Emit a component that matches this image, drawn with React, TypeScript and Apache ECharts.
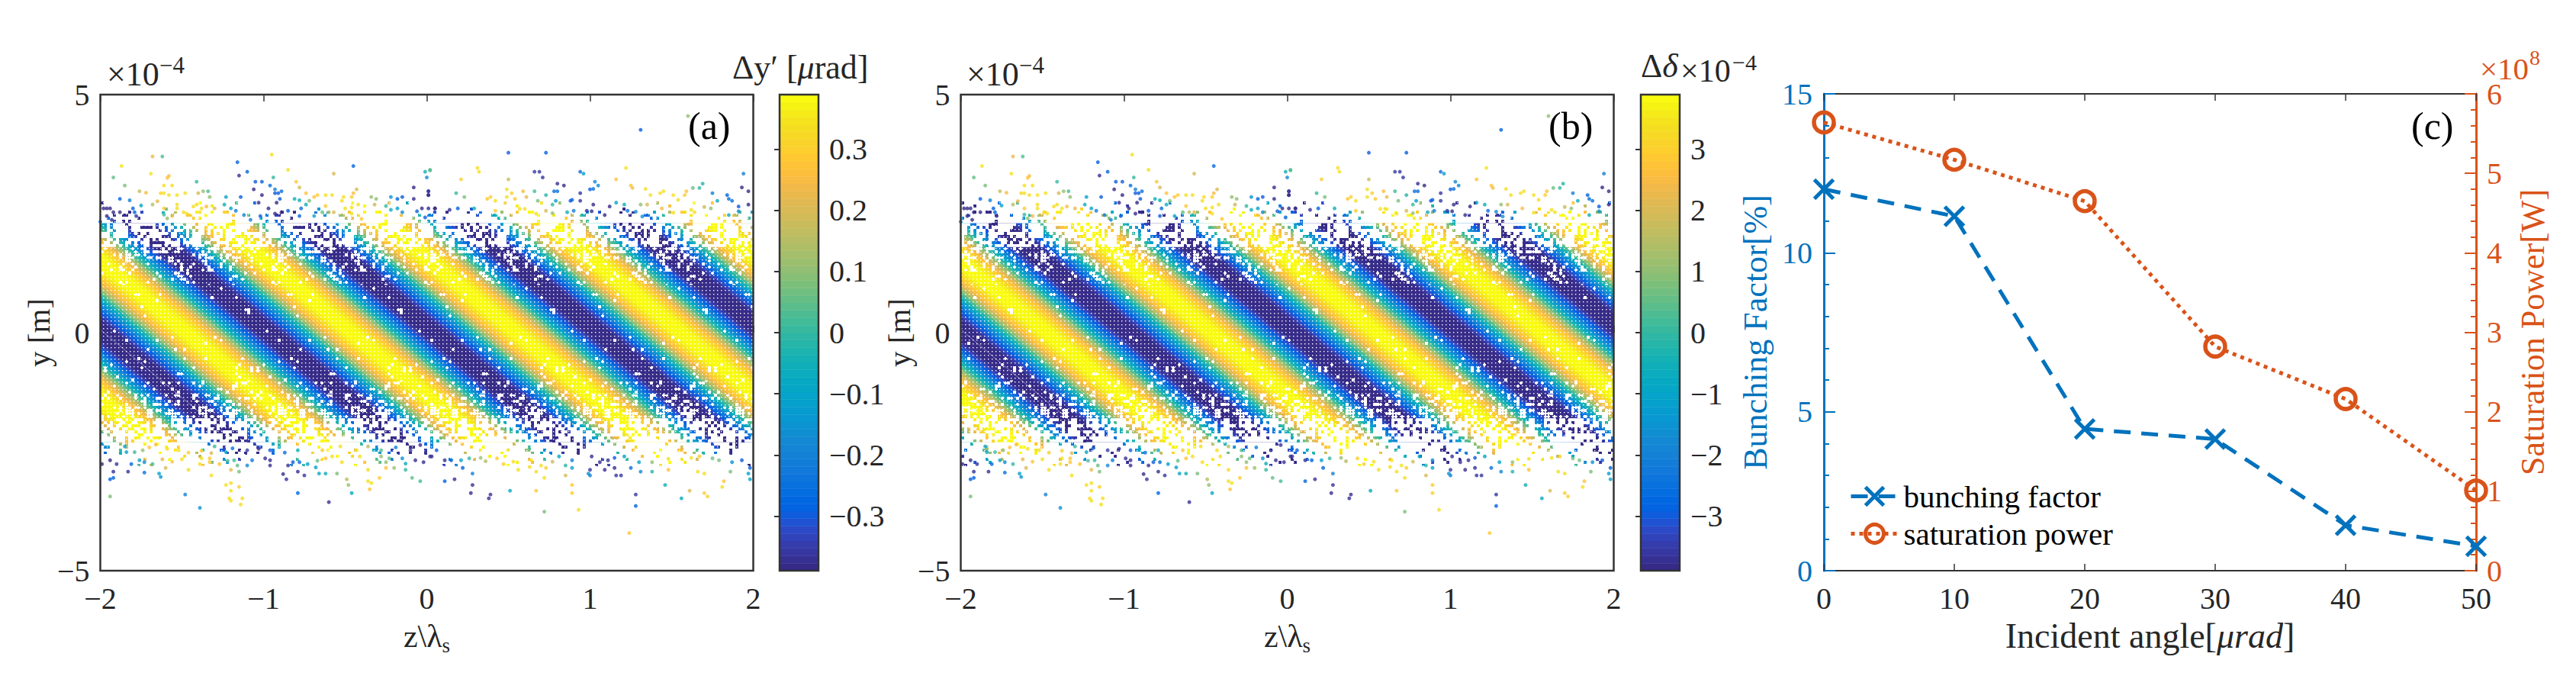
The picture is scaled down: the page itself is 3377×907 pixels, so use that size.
import React, { useEffect, useRef } from "react";
import * as echarts from "echarts";

const SERIF = "'Liberation Serif', 'DejaVu Serif', serif";
const TEXT = "#262626";
const BLUE = "#0072BD";
const ORANGE = "#D95319";

// Panel (c)
const anglesUrad = [0, 10, 20, 30, 40, 50];
const bunchingFactor = [12.0, 11.15, 4.46, 4.14, 1.43, 0.77];
const saturationPower = [5.64, 5.17, 4.65, 2.82, 2.16, 1.01];

// Stripe pattern (a)/(b): trough positions at y = 0, one period's profile of dy' in urad
const stripeTroughZ = [-4.0, -2.99, -1.975, -0.965, 0.045, 1.055, 2.065, 3.075];
const stripePeriodZ = 1.009;
const stripeSlantZPerY = 0.35;
const stripeExtentY = 2.8;
const stripeProfile = [
  -0.39, -0.39, -0.38, -0.36, -0.32, -0.28, -0.23, -0.17, -0.1, -0.03,
  0.03, 0.1, 0.16, 0.22, 0.27, 0.31, 0.35, 0.37, 0.39, 0.39,
  0.39, 0.39, 0.37, 0.35, 0.31, 0.27, 0.22, 0.16, 0.1, 0.03,
  -0.03, -0.1, -0.17, -0.23, -0.28, -0.32, -0.36, -0.38, -0.39, -0.39,
];
// Share of empty area in the particle cloud by height (y in 1e-4 m), strips between consecutive edges
const cloudEdgesY = [-2.85, -2.55, -2.3, -2.05, -1.8, -1.55, -1.3, -1.0, 1.0, 1.3, 1.55, 1.8, 2.05, 2.3, 2.55, 2.85];
const cloudEmpty = [0.95, 0.86, 0.72, 0.55, 0.4, 0.22, 0.1, 0.03, 0.1, 0.22, 0.4, 0.55, 0.72, 0.86, 0.95];

// Individually readable particles: z/lambda_s, y (1e-4 m), dy' (urad)
const particlesUpperLeft = [
  [-1.68,3.7,.22],[-1.62,3.7,.03],[-.95,3.74,.33],[-1.87,3.5,.35],[-1.16,3.58,-.28],[-1.92,3.26,.05],[-1.69,3.34,.35],[-1.58,3.29,.25],
  [-1.59,3.25,.27],[-1.85,3.09,.08],[-1.15,3.3,-.37],[-1.1,3.38,-.28],[-.85,3.42,.33],[-1.41,3.17,0],[-1.05,3.17,-.3],[-1.01,3.17,-.3],
  [-.94,3.26,0],[-.57,3.34,.2],[-.45,3.5,-.27],[-.01,3.38,-.05],[.02,3.42,.05],[0,3.26,-.18],[-.08,3.05,-.38],[.01,2.97,-.38],[.01,2.89,-.38],
  [-.8,3.17,.28],[-.78,3.05,.2],[-.96,3.09,-.25],[-1.06,3.01,-.38],[-1.01,2.89,-.38],[-.93,3.01,-.2],[-.89,2.97,-.25],[-.93,2.93,-.3],[-.91,2.93,-.3],
  [-1.76,2.97,.18],[-1.72,2.94,.25],[-1.63,2.93,.32],[-1.61,2.93,.33],[-1.61,3.09,.34],[-1.56,3.09,.34],[-1.58,2.89,.33],[-1.53,2.89,.35],[-1.48,2.93,.33],
  [-1.4,2.93,.2],[-1.37,2.97,.1],[-1.34,2.97,.03],[-1.33,2.85,.1],[-1.23,2.85,-.1],[-1.14,2.85,-.3],[-1.88,2.81,-.28],[-1.82,2.78,-.2],[-1.03,2.73,-.38],
  [-.74,2.93,.27],[-.69,2.85,.27],[-.67,2.89,.3],[-.62,2.89,.33],[-.58,2.89,.33],[-.43,3.01,.2],[-.45,2.93,.25],[-.46,2.85,.3],[-.51,2.85,.33],[-.34,2.85,.1],
  [-.31,2.81,.1],[-.22,2.85,-.15],[-.18,2.81,-.28],[-.15,2.85,-.3],[-.08,2.81,-.38],[-.81,2.81,-.05],[-.78,2.78,-.05],[-.72,2.77,.08],[-.74,2.69,-.05],[-.9,2.81,-.3],[-.92,2.73,-.38],
  [-1.98,2.61,-.38],[-1.96,2.61,-.38],[-1.94,2.61,-.38],[-1.92,2.53,-.38],[-1.88,2.53,-.38],[-1.96,2.45,-.38],[-1.93,2.37,-.38],[-2,2.33,-.27],[-1.8,2.61,-.28],[-1.79,2.53,-.28],
  [-1.78,2.45,-.36],[-1.75,2.67,-.1],[-1.65,2.76,.22],[-1.68,2.69,.15],[-1.61,2.61,.28],[-1.53,2.69,.34],[-1.53,2.61,.34],[-1.49,2.53,.34],[-1.47,2.5,.34],[-1.43,2.65,.34],
  [-1.41,2.69,.34],[-1.39,2.53,.34],[-1.38,2.61,.33],[-1.35,2.65,.26],[-1.56,2.45,.25],[-1.59,2.4,.1],[-1.61,2.48,0],[-1.3,2.61,.22],[-1.24,2.69,-.05],[-1.2,2.61,-.1],
  [-1.17,2.56,-.2],[-1.12,2.47,-.2],[-1.08,2.37,-.2],[-1.02,2.45,-.3],[-.97,2.61,-.38],[-.93,2.5,-.38],[-.89,2.53,-.38],[-.85,2.56,-.3],[-.78,2.45,-.3],[-.77,2.61,-.25],
  [-.69,2.45,-.1],[-.64,2.53,.05],[-.62,2.66,.28],[-.6,2.53,.15],[-.57,2.53,.2],[-.52,2.77,.33],[-.5,2.61,.33],[-.46,2.63,.33],[-.42,2.69,.33],[-.46,2.5,.33],[-.4,2.39,.28],
  [-.32,2.69,.18],[-.25,2.66,0],[-.22,2.58,-.05],[-.18,2.61,-.1],[-.15,2.53,-.18],[-.06,2.55,-.3],[-.03,2.61,-.38],[-.01,2.42,-.28],[.05,2.61,-.38],
];
const particlesUpperRight = [
  [1.6,4.55,.1],[1.31,4.26,-.28],[.5,3.78,-.3],[.73,3.78,-.28],[.02,3.41,.03],[.31,3.46,.34],[.32,3.38,.34],[.66,3.38,-.36],[.69,3.38,-.36],[.94,3.38,-.25],[.96,3.34,-.12],[1.22,3.46,.35],
  [1.94,3.34,-.2],[.21,3.22,.3],[.5,3.22,.18],[.71,3.26,-.36],[.8,3.13,-.37],[.84,3.09,-.38],[1.03,3.17,-.18],[1.05,3.09,-.18],[1,3.01,-.3],[1.02,3.02,-.25],[1.16,3.22,.27],[1.25,3.09,.28],
  [1.26,3.04,.25],[1.34,3.02,.33],[1.69,3.13,-.02],[1.63,3.04,.05],[1.67,3.04,0],[1.93,3.05,-.38],[1.97,2.97,-.38],[.01,2.97,-.36],[.01,2.89,-.38],[.18,2.93,0],[.23,2.85,.08],
  [.37,2.81,.28],[.39,2.85,.3],[.42,2.77,.33],[.49,3.01,.34],[.52,2.93,.3],[.49,2.85,.33],[.54,2.81,.28],[.59,2.97,.25],[.61,2.85,.22],[.66,2.97,.02],[.68,2.77,.08],[.73,2.89,-.02],
  [.78,2.97,-.25],[.8,2.97,-.25],[.79,2.77,-.12],[.77,2.69,0],[.94,2.93,-.36],[.94,2.77,-.36],[.88,2.77,-.3],[.89,2.79,-.28],[1.02,2.69,-.38],[1.16,2.73,-.1],[1.21,2.69,-.05],[1.31,2.69,.1],
  [1.35,2.69,.2],[1.37,2.89,.34],[1.43,2.93,.33],[1.45,2.97,.33],[1.51,2.89,.34],[1.54,2.79,.33],[1.58,2.89,.3],[1.59,2.97,.27],[1.75,2.93,-.2],[1.78,2.77,-.05],[1.84,2.89,-.28],[1.85,2.81,-.25],
  [1.87,2.77,-.25],[1.91,2.65,-.3],[1.97,2.69,-.38],[.01,2.61,-.38],[.05,2.61,-.38],[.14,2.58,-.37],[.19,2.61,-.28],[.29,2.61,-.05],[.42,2.56,.3],[.57,2.6,.33],[.6,2.6,.33],[.67,2.5,.33],[.73,2.56,.2],
  [.77,2.51,.1],[.86,2.53,-.05],[.9,2.56,-.2],[.98,2.56,-.36],[1.01,2.55,-.38],[1.12,2.65,-.38],[1.09,2.47,-.38],[1.23,2.56,-.25],[1.28,2.54,-.18],[1.32,2.44,-.15],[1.44,2.61,.25],[1.51,2.52,.34],
  [1.62,2.58,.34],[1.64,2.53,.34],[1.7,2.64,.18],[1.74,2.61,.1],[1.85,2.47,-.05],[1.91,2.55,-.15],
];
const particlesLowerLeft = [
  [-1.39,-3.68,-.15],[-.6,-3.56,-.37],[-1.94,-3.44,.08],[-1.48,-3.4,-.2],[-1.14,-3.61,.34],[-1.21,-3.48,.34],[-1.2,-3.53,.33],[-1.13,-3.48,.33],[-1.2,-3.32,.33],[-1.23,-3.2,.34],[-1.2,-3.16,.33],[-1.15,-3.24,.3],
  [-.79,-3.37,-.27],[-.46,-3.37,-.08],[-.35,-3.29,.27],[-.34,-3.16,.33],[-.36,-3.12,.33],[-.48,-3.2,.1],[-.49,-3.08,.15],[-.09,-3.05,.05],[-.04,-3.12,.02],[-.86,-3.08,-.36],[-.75,-3,-.36],[-.88,-2.97,-.38],
  [-1.94,-3.08,-.28],[-1.92,-3.05,-.28],[-1.63,-3.03,-.15],[-1.64,-2.96,-.1],[-1.73,-2.94,-.25],[-1.83,-2.92,-.37],[-1.92,-2.92,-.37],[-1.32,-3,.34],[-1.46,-2.88,.34],[-1.6,-2.84,.2],[-.79,-2.92,-.37],[-.66,-2.96,-.08],
  [-.62,-2.96,-.05],[-.55,-2.96,.08],[-.36,-2.88,.33],[-.29,-3.05,.3],[-.2,-2.84,.12],[-.13,-2.88,0],[-.25,-2.84,.27],[-1.15,-2.92,.08],[-1.2,-2.88,.22],[-1.16,-2.79,.05],[-1.99,-2.76,-.38],[-1.94,-2.68,-.38],[-1.9,-2.76,-.36],
  [-1.81,-2.76,-.27],[-1.76,-2.68,-.1],[-1.73,-2.72,-.18],[-1.68,-2.76,0],[-1.62,-2.66,.22],[-1.56,-2.71,.27],[-1.5,-2.66,.33],[-1.39,-2.76,.34],[-1.38,-2.64,.33],[-1.33,-2.64,.28],[-1.33,-2.72,.28],[-1.27,-2.76,.27],
  [-1.22,-2.69,.03],[-1.18,-2.68,0],[-1.1,-2.79,-.18],[-1.07,-2.68,-.22],[-.96,-2.68,-.37],[-.99,-2.64,-.37],[-.96,-2.79,-.37],[-.85,-2.79,-.37],[-.82,-2.72,-.3],[-.78,-2.72,-.25],[-.73,-2.76,-.12],[-.68,-2.83,-.12],
  [-.67,-2.69,.05],[-.62,-2.64,.27],[-.58,-2.6,.33],[-.52,-2.72,.33],[-.41,-2.6,.33],[-.28,-2.6,.1],[-.23,-2.64,.05],[-.25,-2.72,.1],[-.13,-2.75,-.05],[-.15,-2.64,-.15],[-.07,-2.68,-.37],[-.02,-2.72,-.37],[.03,-2.6,-.38],
  [-1.85,-2.39,-.1],[-1.84,-2.51,-.1],[-1.79,-2.51,.02],[-1.74,-2.47,.12],[-1.7,-2.41,.27],[-1.66,-2.35,.25],[-1.59,-2.44,.33],[-1.52,-2.47,.33],[-1.46,-2.52,.3],[-1.38,-2.48,.3],[-1.32,-2.53,.2],[-1.3,-2.39,0],[-1.23,-2.51,-.08],
  [-1.19,-2.43,-.25],[-1.1,-2.47,-.35],[-1.03,-2.44,-.37],[-.96,-2.47,-.3],[-.87,-2.52,-.25],[-.79,-2.47,-.05],[-.64,-2.47,.28],[-.53,-2.39,.33],[-.43,-2.47,.33],[-.36,-2.39,.15],[-.28,-2.47,.03],[-.19,-2.41,-.2],[-.1,-2.47,-.36],[-.04,-2.36,-.37],[.06,-2.47,-.3],
];
const particlesLowerRight = [
  [1.24,-4.21,.28],[.93,-3.72,.34],[.72,-3.76,.08],[1.28,-3.64,-.28],[1.28,-3.4,-.36],[1.56,-3.48,-.08],[1.72,-3.44,.3],[1.7,-3.37,.3],[1.61,-3.32,.2],[1.81,-3.24,.33],[1.82,-3.12,.27],[1.46,-3.2,-.05],[.51,-3.32,-.08],
  [.67,-3.32,.28],[.89,-3.2,.28],[.89,-3.37,.3],[.39,-3.4,-.37],[.38,-3.48,-.37],[.27,-3.37,-.37],[.28,-3.2,-.37],[.17,-3.08,-.37],[.11,-3.12,-.28],[.28,-2.96,-.2],[.72,-3.05,.33],[.85,-3,.2],[.99,-2.96,-.15],[1,-3,-.2],
  [1.16,-3,-.36],[1.19,-3,-.36],[1.31,-2.92,-.18],[1.38,-2.92,-.02],[1.48,-2.88,.27],[1.66,-2.92,.33],[1.7,-2.96,.33],[1.86,-2.92,.08],[1.97,-2.96,-.12],[1.98,-3.08,-.1],[1.98,-2.84,-.28],[.56,-2.88,.33],[.67,-2.92,.33],
  [.63,-2.82,.33],[.7,-2.79,.33],[.73,-2.84,.3],[.77,-2.71,.18],[.85,-2.79,-.02],[.89,-2.84,-.1],[1,-2.88,-.36],[1.09,-2.88,-.37],[1.15,-2.84,-.37],[1.25,-2.84,-.25],[.22,-2.84,-.28],[.02,-2.6,-.37],[.11,-2.68,-.37],[.15,-2.68,-.28],
  [.21,-2.68,-.1],[.26,-2.64,0],[.33,-2.63,.12],[.36,-2.7,.15],[.43,-2.64,.3],[.47,-2.76,.3],[.53,-2.71,.33],[.64,-2.68,.33],[.81,-2.6,-.08],[.89,-2.68,-.2],[1.01,-2.6,-.37],[1.06,-2.72,-.37],[1.11,-2.68,-.37],[1.15,-2.63,-.3],
  [1.21,-2.6,-.1],[1.3,-2.72,-.1],[1.38,-2.72,.1],[1.48,-2.65,.33],[1.62,-2.63,.33],[1.67,-2.6,.3],[1.75,-2.64,.07],[1.79,-2.68,.08],[1.87,-2.72,-.15],[1.93,-2.68,-.3],
];
const particles = [...particlesUpperLeft, ...particlesUpperRight, ...particlesLowerLeft, ...particlesLowerRight];

// Colour bars
const barMaxA = 0.389;
const barMaxB = 3.89;
const barTicksA = [-0.3, -0.2, -0.1, 0, 0.1, 0.2, 0.3];
const barTicksB = [-3, -2, -1, 0, 1, 2, 3];
const parula = [
  [.2081,.1663,.5292],[.2116,.1898,.5777],[.2123,.2138,.627],[.2081,.2386,.6771],[.1959,.2645,.7279],[.1707,.2919,.7792],[.1253,.3242,.8303],[.0591,.3598,.8683],
  [.0117,.3875,.882],[.006,.4086,.8828],[.0165,.4266,.8786],[.0329,.443,.872],[.0498,.4586,.8641],[.0629,.4737,.8554],[.0723,.4887,.8467],[.0779,.504,.8384],
  [.0793,.52,.8312],[.0749,.5375,.8263],[.0641,.557,.824],[.0488,.5772,.8228],[.0343,.5966,.8199],[.0265,.6137,.8135],[.0239,.6287,.8038],[.0231,.6418,.7913],
  [.0228,.6535,.7768],[.0267,.6642,.7607],[.0384,.6743,.7436],[.059,.6838,.7254],[.0843,.6928,.7062],[.1133,.7015,.6859],[.1453,.7098,.6646],[.1801,.7177,.6424],
  [.2178,.725,.6193],[.2586,.7317,.5954],[.3022,.7376,.5712],[.3482,.7424,.5473],[.3953,.7459,.5244],[.442,.7481,.5033],[.4871,.7491,.484],[.53,.7491,.4661],
  [.5709,.7485,.4494],[.6099,.7473,.4337],[.6473,.7456,.4188],[.6834,.7435,.4044],[.7184,.7411,.3905],[.7525,.7384,.3768],[.7858,.7356,.3633],[.8185,.7327,.3498],
  [.8507,.7299,.336],[.8824,.7274,.3217],[.9139,.7258,.3063],[.945,.7261,.2886],[.9739,.7314,.2666],[.9938,.7455,.2403],[.999,.7653,.2164],[.9955,.7861,.1967],
  [.988,.8066,.1794],[.9789,.8271,.1633],[.9697,.8481,.1475],[.9626,.8705,.1309],[.9589,.8949,.1132],[.9598,.9218,.0948],[.9661,.9514,.0755],[.9763,.9831,.0538],
];

function levelRgb(v: number, max: number) {
  const i = Math.max(0, Math.min(63, Math.floor(((v + max) / (2 * max)) * 64)));
  const c = parula[i].map((p) => Math.round(p * 255));
  return `rgb(${c[0]},${c[1]},${c[2]})`;
}
const minus = (s: string) => s.replace("-", "\u2212");

// Keeps a polygon, given in data units, inside z = -2..2
function clipToPanel(points: number[][]) {
  let out = points;
  [[-2, 1], [2, -1]].forEach(([edge, sign]) => {
    const kept: number[][] = [];
    out.forEach((p, i) => {
      const q = out[(i + 1) % out.length];
      const dp = (p[0] - edge) * sign;
      const dq = (q[0] - edge) * sign;
      if (dp >= 0) kept.push(p);
      if (dp * dq < 0) {
        const t = dp / (dp - dq);
        kept.push([p[0] + t * (q[0] - p[0]), p[1] + t * (q[1] - p[1])]);
      }
    });
    out = kept;
  });
  return out;
}

function stripeSeries(xAxisIndex: number, yAxisIndex: number, scale: number) {
  const data: number[][] = [];
  const step = stripePeriodZ / stripeProfile.length;
  stripeTroughZ.forEach((t) =>
    stripeProfile.forEach((v, i) => data.push([t + i * step, t + (i + 1) * step, v * scale]))
  );
  const max = barMaxA * scale;
  return {
    type: "custom",
    xAxisIndex,
    yAxisIndex,
    silent: true,
    z: 2,
    data,
    renderItem: (_p: any, api: any) => {
      const z0 = api.value(0);
      const z1 = api.value(1);
      const s = stripeSlantZPerY;
      const h = stripeExtentY;
      const poly = clipToPanel([
        [z0 + s * h, -h],
        [z1 + s * h, -h],
        [z1 - s * h, h],
        [z0 - s * h, h],
      ]);
      if (poly.length < 3) return null;
      const fill = levelRgb(api.value(2), max);
      return {
        type: "polygon",
        shape: { points: poly.map((p) => api.coord(p)) },
        style: { fill, stroke: fill, lineWidth: 0.7 },
      };
    },
  };
}

// White speckle texture: the gaps between particles at each height of the cloud
const TILE = 200;
function mix(i: number) {
  let x = Math.imul(i + 1, 0x9e3779b1);
  x ^= x >>> 15;
  x = Math.imul(x, 0x85ebca77);
  x ^= x >>> 13;
  x = Math.imul(x, 0xc2b2ae3d);
  x ^= x >>> 16;
  return (x >>> 0) / 4294967296;
}
function makeTile(empty: number) {
  const c = document.createElement("canvas");
  c.width = TILE;
  c.height = TILE;
  const g = c.getContext("2d")!;
  g.fillStyle = "#fff";
  const cell = 4;
  const n = TILE / cell;
  for (let r = 0; r < n; r++)
    for (let k = 0; k < n; k++) {
      if (mix(r * n + k) < empty) {
        const a = mix(r * n + k + 7777) < 0.5;
        if (empty > 0.5 || a) g.fillRect(k * cell, r * cell, cell, cell);
        else {
          g.fillRect(k * cell + 1, r * cell, 2, cell);
          g.fillRect(k * cell, r * cell + 1, cell, 2);
        }
      }
    }
  for (let r = 0; r < TILE; r += 5)
    for (let k = 0; k < TILE; k += 5) g.fillRect(k, r, 1.4, 1.4);
  return c.toDataURL();
}

function cloudSeries(xAxisIndex: number, yAxisIndex: number, tiles: string[]) {
  return {
    type: "custom",
    xAxisIndex,
    yAxisIndex,
    silent: true,
    z: 3,
    data: cloudEmpty.map((_, row) => [row, 0]),
    renderItem: (_p: any, api: any) => {
      const row = api.value(0);
      const a = api.coord([-2, cloudEdgesY[row + 1]]);
      const b = api.coord([2, cloudEdgesY[row]]);
      return {
        type: "rect",
        shape: { x: a[0], y: a[1], width: b[0] - a[0], height: b[1] - a[1] },
        style: { fill: { image: tiles[row], repeat: "repeat", imageWidth: TILE, imageHeight: TILE } },
      };
    },
  };
}

function particleSeries(xAxisIndex: number, yAxisIndex: number, scale: number) {
  const max = barMaxA * scale;
  return {
    type: "scatter",
    xAxisIndex,
    yAxisIndex,
    symbol: "circle",
    symbolSize: 5,
    silent: true,
    clip: false,
    z: 4,
    data: particles.map((p) => [p[0], p[1], p[2] * scale]),
    itemStyle: { color: (p: any) => levelRgb(p.value[2], max) },
  };
}

function barSeries(xAxisIndex: number, yAxisIndex: number, max: number) {
  return {
    type: "custom",
    xAxisIndex,
    yAxisIndex,
    silent: true,
    z: 2,
    data: parula.map((_, i) => [i, 0]),
    renderItem: (_p: any, api: any) => {
      const i = api.value(0);
      const lo = -max + (i * 2 * max) / 64;
      const hi = -max + ((i + 1) * 2 * max) / 64;
      const a = api.coord([0, hi]);
      const b = api.coord([1, lo]);
      const fill = levelRgb((lo + hi) / 2, max);
      return {
        type: "rect",
        shape: { x: a[0], y: a[1], width: b[0] - a[0], height: b[1] - a[1] },
        style: { fill, stroke: fill, lineWidth: 0.5 },
      };
    },
  };
}

const tickLabel = { fontFamily: SERIF, fontSize: 40, color: TEXT };
const frame = { show: true, borderColor: "#333", borderWidth: 2.5, z: 5, containLabel: false };

function scatterAxes(grid: number) {
  const xBase = {
    type: "value",
    gridIndex: grid,
    min: -2,
    max: 2,
    interval: 1,
    splitLine: { show: false },
    axisLine: { show: false },
    axisTick: { inside: true, length: 9, lineStyle: { color: "#333", width: 1.5 } },
  };
  return {
    x: [
      {
        ...xBase,
        position: "bottom",
        axisLabel: { ...tickLabel, margin: 16, formatter: (v: number) => minus(String(v)) },
        name: "{b|z\\\u03bb}{s|s}",
        nameLocation: "middle",
        nameGap: 60,
        nameTextStyle: {
          fontFamily: SERIF,
          fontSize: 42,
          color: TEXT,
          rich: {
            b: { fontFamily: SERIF, fontSize: 42, color: TEXT },
            s: { fontFamily: SERIF, fontSize: 27, color: TEXT, padding: [24, 0, 0, 0] },
          },
        },
      },
      { ...xBase, position: "top", axisLabel: { show: false } },
    ],
    y: {
      type: "value",
      gridIndex: grid,
      min: -5,
      max: 5,
      interval: 5,
      splitLine: { show: false },
      axisLine: { show: false },
      axisTick: { inside: true, length: 9, lineStyle: { color: "#333", width: 1.5 } },
      axisLabel: { ...tickLabel, margin: 14, formatter: (v: number) => minus(String(v)) },
      name: "y [m]",
      nameLocation: "middle",
      nameGap: 60,
      nameTextStyle: { fontFamily: SERIF, fontSize: 41, color: TEXT },
    },
  };
}

function barAxes(grid: number, max: number, ticks: number[], digits: number) {
  return {
    x: { type: "value", gridIndex: grid, min: 0, max: 1, show: false },
    y: {
      type: "value",
      gridIndex: grid,
      position: "right",
      min: -max,
      max,
      z: 6,
      splitLine: { show: false },
      axisLine: { show: false },
      axisTick: { inside: true, length: 7, lineStyle: { color: "#333", width: 2 }, customValues: ticks },
      axisLabel: {
        ...tickLabel,
        margin: 14,
        customValues: ticks,
        formatter: (v: number) => (Math.abs(v) < 1e-9 ? "0" : minus(v.toFixed(digits))),
      },
    },
  };
}

const labelText = (x: number, y: number, text: string, extra: any = {}) => ({
  type: "text",
  x,
  y,
  z: 20,
  silent: true,
  style: { text, fontFamily: SERIF, fontSize: 42, fill: TEXT, align: "left", verticalAlign: "middle", ...extra },
});
const panelTag = (x: number, text: string) => labelText(x, 165, text, { fontSize: 50, fill: "#000" });
const italic = { fontFamily: SERIF, fontSize: 44, fontStyle: "italic", color: TEXT };
const upright = { fontFamily: SERIF, fontSize: 44, color: TEXT };

export default function App() {
  const ref = useRef<HTMLDivElement>(null);
  useEffect(() => {
    const chart = echarts.init(ref.current!, undefined, { renderer: "svg", width: 3377, height: 907 });
    const tiles = cloudEmpty.map(makeTile);
    const a = scatterAxes(0);
    const b = scatterAxes(1);
    const barA = barAxes(3, barMaxA, barTicksA, 1);
    const barB = barAxes(4, barMaxB, barTicksB, 0);
    const cX = {
      type: "value",
      gridIndex: 2,
      min: 0,
      max: 50,
      interval: 10,
      splitLine: { show: false },
      axisLine: { show: true, onZero: false, lineStyle: { color: "#333", width: 2 } },
      axisTick: { inside: true, length: 9, lineStyle: { color: "#333", width: 1.5 } },
    };
    const nameBase = { fontFamily: SERIF, fontSize: 46, color: TEXT };
    chart.setOption({
      animation: false,
      backgroundColor: "#fff",
      grid: [
        { left: 131.5, top: 124, width: 856, height: 624, ...frame },
        { left: 1259.5, top: 124, width: 856, height: 624, ...frame },
        { left: 2391, top: 123, width: 855, height: 625 },
        { left: 1022, top: 124, width: 51, height: 624, ...frame },
        { left: 2151, top: 124, width: 51, height: 624, ...frame },
      ],
      xAxis: [
        ...a.x,
        ...b.x,
        {
          ...cX,
          position: "bottom",
          axisLabel: { ...tickLabel, margin: 16 },
          name: "{b|Incident angle[}{i|\u03bcrad}{b|]}",
          nameLocation: "middle",
          nameGap: 62,
          nameTextStyle: {
            ...nameBase,
            rich: { b: nameBase, i: { ...nameBase, fontStyle: "italic" } },
          },
        },
        { ...cX, position: "top", axisLabel: { show: false } },
        barA.x,
        barB.x,
      ],
      yAxis: [
        a.y,
        b.y,
        {
          type: "value",
          gridIndex: 2,
          position: "left",
          min: 0,
          max: 15,
          interval: 5,
          splitLine: { show: false },
          axisLine: { show: true, onZero: false, lineStyle: { color: BLUE, width: 3 } },
          axisTick: { inside: true, length: 15, lineStyle: { color: BLUE, width: 2 } },
          minorTick: { show: true, splitNumber: 5, length: 7, lineStyle: { color: BLUE, width: 2 } },
          minorSplitLine: { show: false },
          axisLabel: { ...tickLabel, color: BLUE, margin: 15 },
          name: "Bunching Factor[%]",
          nameLocation: "middle",
          nameGap: 68,
          nameTextStyle: { fontFamily: SERIF, fontSize: 44, color: BLUE },
        },
        {
          type: "value",
          gridIndex: 2,
          position: "right",
          min: 0,
          max: 6,
          interval: 1,
          splitLine: { show: false },
          axisLine: { show: true, onZero: false, lineStyle: { color: ORANGE, width: 3 } },
          axisTick: { inside: true, length: 15, lineStyle: { color: ORANGE, width: 2 } },
          minorTick: { show: true, splitNumber: 5, length: 7, lineStyle: { color: ORANGE, width: 2 } },
          axisLabel: { ...tickLabel, color: ORANGE, margin: 14 },
          name: "Saturation Power[W]",
          nameLocation: "middle",
          nameRotate: 90,
          nameGap: 52,
          nameTextStyle: { fontFamily: SERIF, fontSize: 44, color: ORANGE },
        },
        barA.y,
        barB.y,
      ],
      legend: {
        data: ["bunching factor", "saturation power"],
        orient: "vertical",
        left: 2424,
        top: 630,
        itemWidth: 62,
        itemHeight: 30,
        itemGap: 8,
        padding: 0,
        itemStyle: { borderWidth: 5 },
        lineStyle: { width: 5 },
        textStyle: { fontFamily: SERIF, fontSize: 41, color: "#000", padding: [0, 0, 0, 2] },
      },
      series: [
        stripeSeries(0, 0, 1),
        cloudSeries(0, 0, tiles),
        particleSeries(0, 0, 1),
        stripeSeries(2, 1, 10),
        cloudSeries(2, 1, tiles),
        particleSeries(2, 1, 10),
        barSeries(6, 4, barMaxA),
        barSeries(7, 5, barMaxB),
        {
          type: "line",
          name: "bunching factor",
          xAxisIndex: 4,
          yAxisIndex: 2,
          clip: false,
          z: 6,
          data: anglesUrad.map((x, i) => [x, bunchingFactor[i]]),
          symbol: "path://M0 0L10 10M10 0L0 10",
          symbolSize: 25,
          lineStyle: { color: BLUE, width: 5, type: [22, 14] },
          itemStyle: { color: "none", borderColor: BLUE, borderWidth: 5 },
        },
        {
          type: "line",
          name: "saturation power",
          xAxisIndex: 4,
          yAxisIndex: 3,
          clip: false,
          z: 6,
          data: anglesUrad.map((x, i) => [x, saturationPower[i]]),
          symbol: "circle",
          symbolSize: 26,
          lineStyle: { color: ORANGE, width: 5, type: [5, 6] },
          itemStyle: { color: "none", borderColor: ORANGE, borderWidth: 5.5 },
        },
      ],
      graphic: [
        labelText(140, 97, "\u00d710", { fontSize: 44 }),
        labelText(209, 85, "\u22124", { fontSize: 31 }),
        labelText(1267, 97, "\u00d710", { fontSize: 44 }),
        labelText(1336, 85, "\u22124", { fontSize: 31 }),
        labelText(960, 88, "{b|\u0394y\u2032 [}{i|\u03bc}{b|rad]}", { rich: { b: upright, i: italic } }),
        labelText(2151, 86, "{b|\u0394}{i|\u03b4}", { rich: { b: upright, i: italic } }),
        labelText(2203, 93, "\u00d710"),
        labelText(2271, 81, "\u22124", { fontSize: 30 }),
        labelText(3251, 90, "\u00d710", { fill: ORANGE, fontSize: 41, lineHeight: 24 }),
        labelText(3316, 75, "8", { fill: ORANGE, fontSize: 28 }),
        panelTag(902, "(a)"),
        panelTag(2030, "(b)"),
        panelTag(3161, "(c)"),
      ],
    });
    return () => chart.dispose();
  }, []);
  return <div ref={ref} style={{ position: "fixed", left: 0, top: 0, width: 3377, height: 907 }} />;
}
